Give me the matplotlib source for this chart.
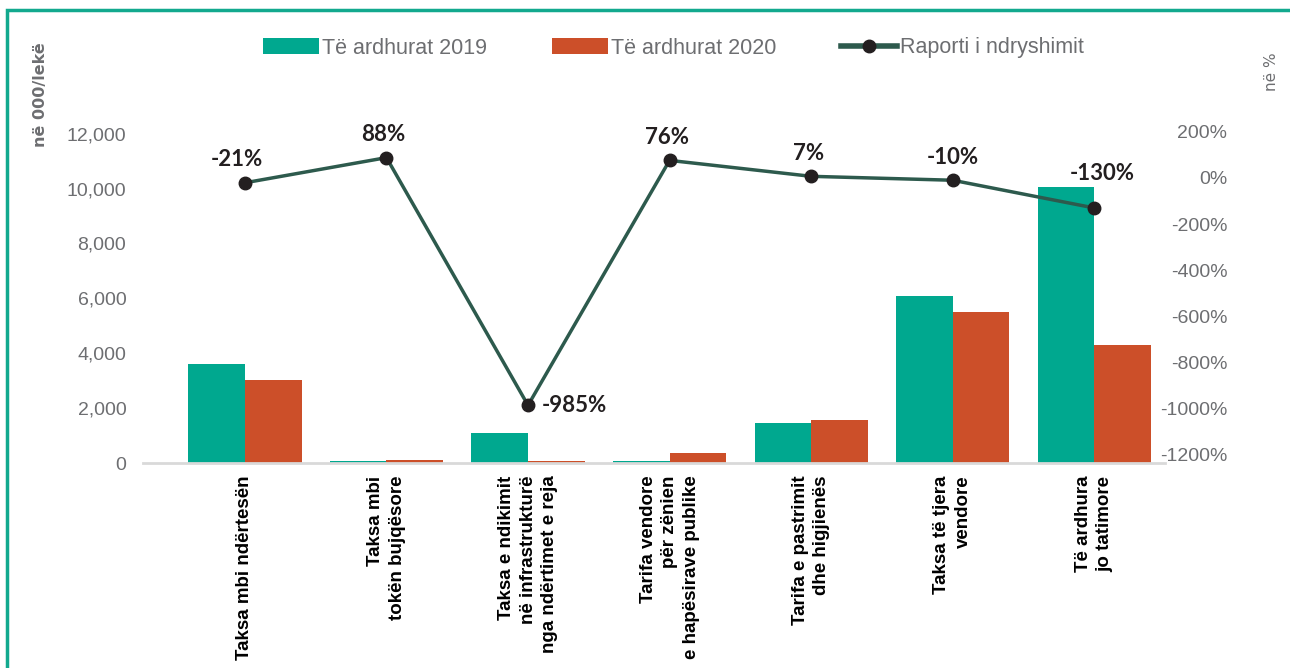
import matplotlib
matplotlib.use("Agg")
import matplotlib.pyplot as plt
from matplotlib.lines import Line2D
from matplotlib.patches import Patch, Rectangle
import numpy as np

categories = [
    "Taksa mbi ndërtesën",
    "Taksa mbi\ntokën bujqësore",
    "Taksa e ndikimit\nnë infrastrukturë\nnga ndërtimet e reja",
    "Tarifa vendore\npër zënien\ne hapësirave publike",
    "Tarifa e pastrimit\ndhe higjienës",
    "Taksa të tjera\nvendore",
    "Të ardhura\njo tatimore",
]
income_2019 = [3610, 90, 1090, 70, 1460, 6090, 10070]
income_2020 = [3030, 100, 90, 370, 1570, 5510, 4300]
change_ratio = [-21, 88, -985, 76, 7, -10, -130]

left_ticks = [0, 2000, 4000, 6000, 8000, 10000, 12000]
right_ticks = [-1200, -1000, -800, -600, -400, -200, 0, 200]

teal = "#00A88F"
orange = "#CC4F29"
line_col = "#2D5A4D"
grey = "#6D6E71"
narrow = ["Liberation Sans", "DejaVu Sans"]

fig = plt.figure(figsize=(12.9, 6.68), dpi=100)
ax = fig.add_axes([143 / 1290, 1 - 463 / 668, (1165 - 143) / 1290, (463 - 120) / 668])
ax2 = ax.twinx()

x = np.arange(len(categories))
w = 0.40
ax.bar(x - w / 2, income_2019, w, color=teal, zorder=2)
ax.bar(x + w / 2, income_2020, w, color=orange, zorder=2)

ax.set_xlim(-0.72, 6.5)
ax.set_ylim(0, 12500)
ax.set_yticks(left_ticks)
ax.set_yticklabels([f"{v:,}" for v in left_ticks], family=narrow, fontsize=14, color=grey)
ax.set_xticks(x)
ax.set_xticklabels(categories, rotation=90, ha="center", va="top",
                   multialignment="right", fontsize=13.5, fontweight="bold",
                   family=["Liberation Sans", "DejaVu Sans"], linespacing=1.35)
ax.tick_params(axis="both", length=0)
ax.tick_params(axis="y", pad=12)
ax.tick_params(axis="x", pad=9)

for a in (ax, ax2):
    for s in a.spines.values():
        s.set_visible(False)
ax.spines["bottom"].set_visible(True)
ax.spines["bottom"].set_color("#D9D9D9")
ax.spines["bottom"].set_linewidth(2)

ax2.plot(x, change_ratio, color=line_col, lw=2.5, marker="o", markersize=9,
         markerfacecolor="#231F20", markeredgecolor="#231F20", zorder=3)
ax2.set_ylim(-1235, 251)
ax2.set_yticks(right_ticks)
ax2.set_yticklabels([f"{v}%" for v in right_ticks], family=narrow, fontsize=14, color=grey)
ax2.tick_params(axis="y", length=0, pad=45)
for t in ax2.get_yticklabels():
    t.set_horizontalalignment("right")

offsets = [(-6, 9), (-2, 9), (10, 0), (-2, 9), (-2, 9), (0, 9), (6, 17)]
for xi, v, off in zip(x, change_ratio, offsets):
    if off[1] == 0:
        ax2.annotate(f"{v}%", (xi, v), xytext=off, textcoords="offset points",
                     ha="left", va="center", fontsize=16, fontweight="bold",
                     color="#231F20", family=["Lato", "DejaVu Sans"])
    else:
        ax2.annotate(f"{v}%", (xi, v), xytext=off, textcoords="offset points",
                     ha="center", va="bottom", fontsize=16, fontweight="bold",
                     color="#231F20", family=["Lato", "DejaVu Sans"])

fig.text(40 / 1290, 1 - 95 / 668, "në 000/lekë", rotation=90, ha="center", va="center",
         fontsize=11.5, fontweight="bold", color=grey)
fig.text(1272 / 1290, 1 - 72 / 668, "në %", rotation=90, ha="center", va="center",
         fontsize=11, color=grey)

handles = [
    Patch(facecolor=teal, label="Të ardhurat 2019"),
    Patch(facecolor=orange, label="Të ardhurat 2020"),
    Line2D([0], [0], color=line_col, lw=4, marker="o", markersize=9,
           markerfacecolor="#231F20", markeredgecolor="#231F20", label="Raporti i ndryshimit"),
]
leg = fig.legend(handles=handles, loc="center", bbox_to_anchor=(0.522, 1 - 48 / 668),
                 ncol=3, frameon=False, handlelength=2.6, handleheight=0.75,
                 handletextpad=0.15, columnspacing=3.0,
                 prop={"family": narrow, "size": 15.5})
for t in leg.get_texts():
    t.set_color(grey)

fig.patches.append(Rectangle((7 / 1290, -0.1), 1.2, 1.1 - 10 / 668, transform=fig.transFigure,
                             fill=False, edgecolor="#12A98E", lw=2.5))

fig.savefig("out.png", dpi=100)
